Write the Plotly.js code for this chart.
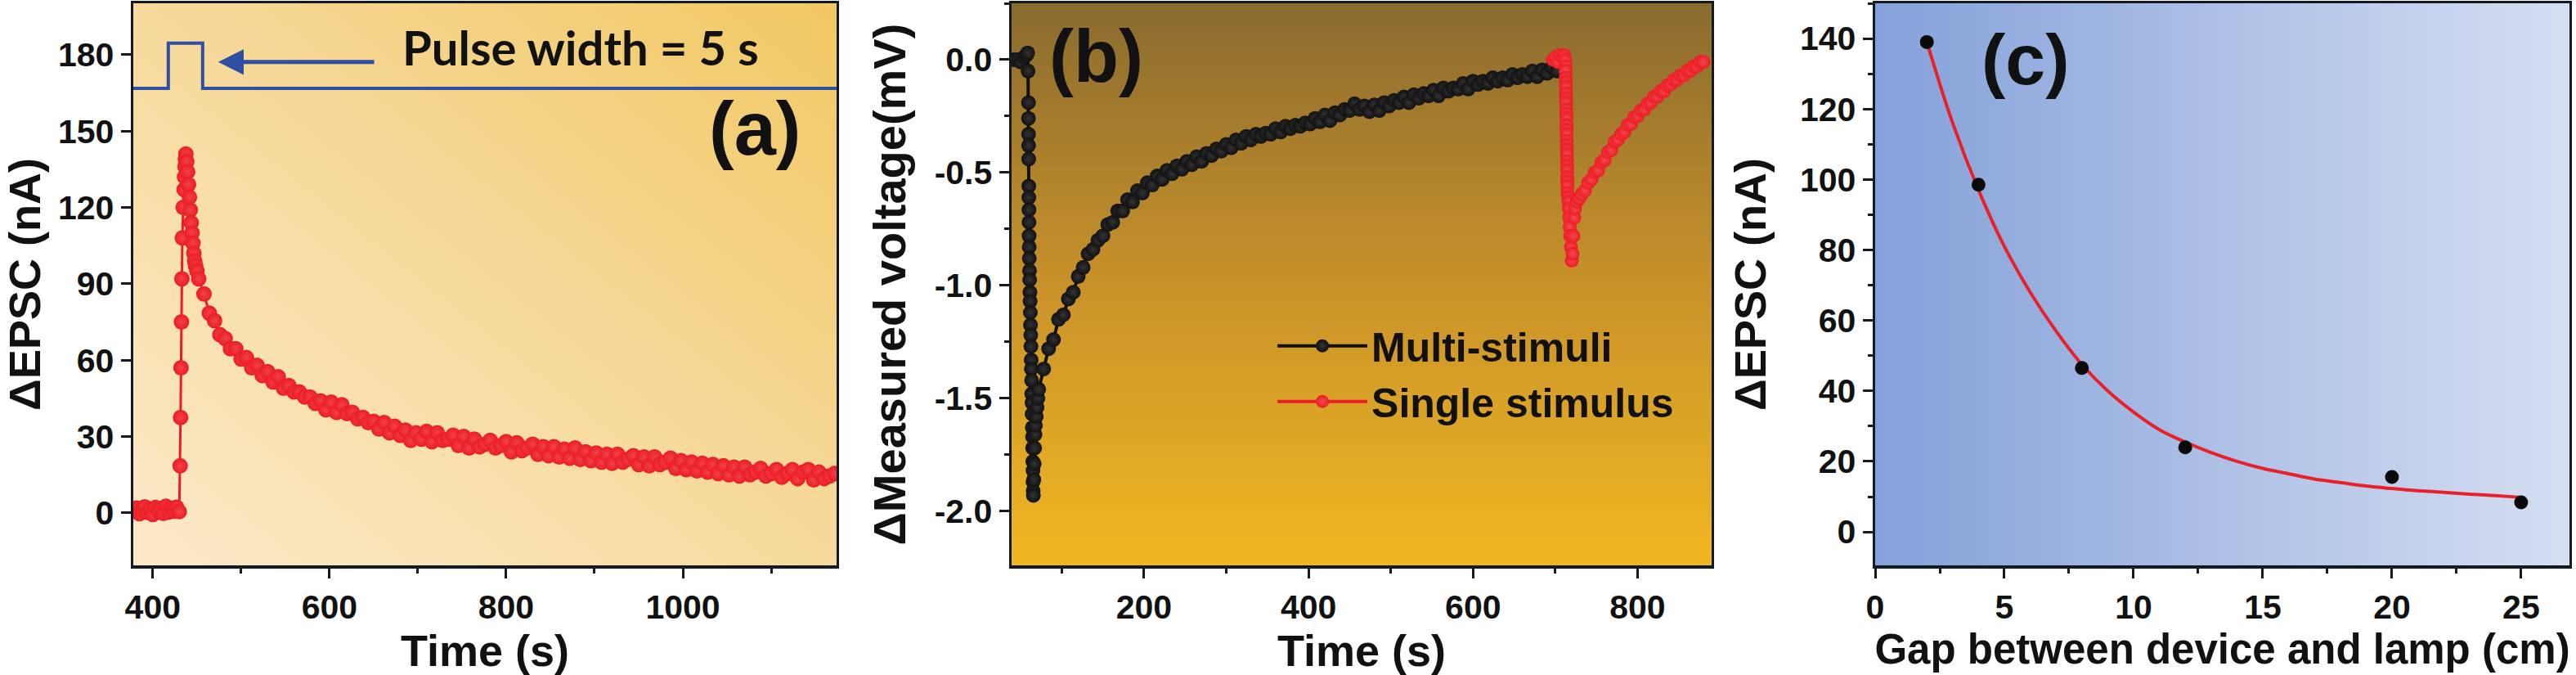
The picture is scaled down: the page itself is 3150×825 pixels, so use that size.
<!DOCTYPE html>
<html>
<head>
<meta charset="utf-8">
<script src="https://cdn.plot.ly/plotly-3.0.1.min.js"></script>
<style>
  body { margin: 0; background: #fff; }
  #plot { width: 3150px; height: 825px; }
</style>
</head>
<body>
<div id="plot"></div>
<script>
// ---- panel (a): single pulse, EPSC vs time ----
var aTime = [379,382,385,388,391,394,397,400,403,406,409,412,415,418,421,424,427,430,
  431,431.5,432,432.5,433,433.5,434.5,435.5,436,436.5,437,437.5,
  438.5,439.5,440.5,441.5,442.5,443.5,444.5,445.5,446.5,447.5,448.5,450,
  452,458,464,470,476,482,488,494,500,506,512,518,524,530,536,542,548,554,560,566,572,578,584,590,
  596,602,608,614,620,626,632,638,644,650,656,662,668,674,680,686,692,698,704,710,716,722,728,734,
  740,746,752,758,764,770,776,782,788,794,800,806,812,818,824,830,836,842,848,854,860,866,872,878,
  884,890,896,902,908,914,920,926,932,938,944,950,956,962,968,974,980,986,992,998,1004,1010,1016,
  1022,1028,1034,1040,1046,1052,1058,1064,1070,1076,1082,1088,1094,1100,1106,1112,1118,1124,1130,
  1136,1142,1148,1154,1160,1166,1172];
var aEpsc = [0.8,1.9,-0.3,1.2,2.4,0.2,1.5,-0.6,2.1,0.9,1.7,-0.2,2.6,0.4,1.8,0.7,2.2,0.5,
  18.5,37.5,57,75,92,108,120,127,132,136,139,141,
  138,134,129,124,119,114,110,106,102,99,97,95,
  92,86,78.5,75.5,70,68.5,64.5,64.5,60.5,61,57,58,54,55.5,51.5,53.5,49,50,47.5,47.5,45.5,45.5,43,44,
  40.5,43.5,39.5,42.5,39,39.5,37,37.5,35.5,36,33,35.5,31.5,34,30.5,32.5,28.5,31.5,29,32,28,31.5,28.5,29,
  30.5,26.5,30,25.5,29,26,27,28.5,25.5,26.5,28,24,27.5,24.5,25.5,27,23,26,22.5,26,22,25,21.5,25.5,
  21,24,20.5,23.5,20,23,19.5,23,20,21,22.5,19,22,18.5,22,19,20,21.5,17.5,20.5,17,20,16.5,
  19.5,16,19,15.5,18.5,15,18,14.5,18,15,16,17.5,14.5,15.5,17,14,15.5,17,13.5,
  16,17,13,16,13.5,14.5,15.5];
// light-pulse schematic (top of panel a)
var pulseX = [370,417.6,417.6,456.5,456.5,1180];
var pulseY = [166.8,166.8,184.5,184.5,166.8,166.8];

// ---- panel (b): measured voltage ----
var bMultiTime = [42,46,50,54,57,58.5,59,
  59.5,59.5,59.6,59.7,59.8,59.9,60,60.1,60.2,60.3,60.4,60.5,
  60.8,61,61.3,61.5,61.8,62,62.3,62.5,62.8,63,63.3,63.5,63.8,64,64.2,64.4,64.6,64.8,65,65,65.2,
  65.5,66,66.5,67,67.5,68,69,70,71,
  72,78,84,90,96,102,108,114,120,126,132,138,144,150,156,162,168,174,180,186,192,198,204,210,216,
  222,228,234,240,246,252,258,264,270,276,282,288,294,300,306,312,318,324,330,336,342,348,354,360,
  366,372,378,384,390,396,402,408,414,420,426,432,438,444,450,456,462,468,474,480,486,492,498,504,
  510,516,522,528,534,540,546,552,558,564,570,576,582,588,594,600,606,612,618,624,630,636,642,648,
  654,660,666,672,678,684,690,696,702];
var bMultiV = [0.0,0.0,-0.01,0.01,0.02,0.03,-0.05,
  -0.19,-0.26,-0.33,-0.38,-0.44,-0.56,-0.61,-0.665,-0.72,-0.78,-0.83,-0.88,
  -0.935,-0.975,-1.03,-1.07,-1.12,-1.175,-1.22,-1.27,-1.33,-1.37,-1.42,-1.48,-1.52,-1.57,-1.63,-1.67,-1.72,-1.78,-1.82,-1.87,-1.91,
  -1.93,-1.86,-1.79,-1.72,-1.66,-1.62,-1.58,-1.54,-1.5,
  -1.46,-1.37,-1.28,-1.24,-1.15,-1.13,-1.06,-1.03,-0.96,-0.92,-0.86,-0.84,-0.8,-0.78,-0.73,-0.72,-0.67,-0.67,-0.62,-0.63,-0.58,-0.59,-0.545,-0.555,-0.515,
  -0.53,-0.49,-0.505,-0.47,-0.485,-0.45,-0.465,-0.43,-0.45,-0.415,-0.425,-0.395,-0.405,-0.375,-0.39,-0.355,-0.37,-0.34,-0.355,-0.33,-0.34,-0.325,-0.33,-0.305,
  -0.32,-0.295,-0.305,-0.29,-0.295,-0.28,-0.285,-0.26,-0.275,-0.245,-0.27,-0.235,-0.245,-0.22,-0.225,-0.195,-0.22,-0.205,-0.23,-0.2,-0.225,-0.19,-0.205,-0.18,
  -0.19,-0.165,-0.19,-0.155,-0.17,-0.15,-0.16,-0.135,-0.16,-0.125,-0.14,-0.125,-0.13,-0.105,-0.13,-0.095,-0.11,-0.095,-0.105,-0.08,-0.095,-0.08,-0.09,-0.065,
  -0.08,-0.065,-0.075,-0.05,-0.075,-0.045,-0.06,-0.035,-0.05];
var bSingleTime = [697,700,703,706,709,711,712,
  712.5,712.6,712.7,712.8,712.9,713,713.1,713.2,713.3,713.4,713.5,713.6,713.7,713.8,713.9,714,714.1,714.2,714.3,714.4,714.5,714.6,714.7,714.8,714.9,
  715.5,716,716.5,717,717.5,718,719,
  720,721,722,723,724,726,729,
  732,736,740,744,748,752,756,760,764,768,772,776,780,784,788,792,796,800,804,808,812,816,820,824,828,832,836,840,844,848,852,856,860,864,868,872,876,880];
var bSingleV = [0.0,0.01,-0.01,0.02,0.01,0.02,0.0,
  -0.03,-0.05,-0.08,-0.1,-0.12,-0.15,-0.17,-0.19,-0.22,-0.24,-0.26,-0.29,-0.31,-0.33,-0.36,-0.38,-0.4,-0.42,-0.45,-0.47,-0.49,-0.52,-0.54,-0.56,-0.59,
  -0.61,-0.63,-0.66,-0.7,-0.74,-0.78,-0.83,
  -0.89,-0.86,-0.78,-0.7,-0.66,-0.63,-0.615,
  -0.595,-0.58,-0.545,-0.53,-0.5,-0.49,-0.455,-0.445,-0.41,-0.4,-0.365,-0.355,-0.33,-0.32,-0.29,-0.285,-0.255,-0.25,-0.225,-0.22,-0.195,-0.19,-0.165,-0.165,-0.14,-0.14,-0.115,-0.11,-0.09,-0.09,-0.07,-0.07,-0.05,-0.05,-0.03,-0.03,-0.01,-0.01];
var bTickVals = [-2,-1.5,-1,-0.5,0];
var bTickText = ['-2.0','-1.5','-1.0','-0.5','0.0'];

// ---- panel (c): EPSC vs gap ----
var gapCm = [2,4,8,12,20,25];
var gapEpsc = [139,98.5,46.5,24,15.6,8.4];
var fitGap = [2,3,4,5,6,7,8,9,10,11,12,13,14,15,16,17,18,19,20,21,22,23,24,25];
var fitEpsc = [139,116,97,81,68,57,47.5,40,34,29,25.5,22.5,20,18,16.5,15,14,13,12.3,11.7,11.2,10.7,10.3,9.8];

function grad(stops, x1, y1, x2, y2) {
  var s = stops.map(function (c) {
    return "<stop offset='" + c[0] + "' stop-color='" + c[1] + "'/>";
  }).join('');
  var svg = "<svg xmlns='http://www.w3.org/2000/svg' width='200' height='200' preserveAspectRatio='none'>" +
    "<defs><linearGradient id='g' x1='" + x1 + "' y1='" + y1 + "' x2='" + x2 + "' y2='" + y2 + "'>" + s +
    "</linearGradient></defs><rect width='200' height='200' fill='url(#g)'/></svg>";
  return 'data:image/svg+xml;charset=utf-8,' + encodeURIComponent(svg);
}

var fam = 'Liberation Sans, Arial, sans-serif';
var ink = '#141a24';
var domA = [0.05175, 0.32476], domB = [0.39270, 0.66444], domC = [0.72794, 0.99746];
var domY = [0.16242, 0.99515];

function bg(src, dom) {
  return {source: src, xref: 'paper', yref: 'paper', x: dom[0], y: domY[1],
    sizex: dom[1] - dom[0], sizey: domY[1] - domY[0], xanchor: 'left', yanchor: 'top',
    sizing: 'stretch', layer: 'below'};
}

function axis(extra) {
  var a = {
    showline: true, linecolor: ink, linewidth: 3.5, mirror: true,
    ticks: 'outside', ticklen: 12, tickwidth: 3, tickcolor: ink,
    showgrid: false, zeroline: false,
    tickfont: {family: fam, size: 41, color: '#111', weight: 'bold'}
  };
  for (var k in extra) a[k] = extra[k];
  return a;
}
function ttl(text, standoff, size) {
  return {text: text, standoff: standoff, font: {family: fam, size: size || 54, color: '#111', weight: 'bold'}};
}

var traces = [
  {x: pulseX, y: pulseY, xaxis: 'x', yaxis: 'y', mode: 'lines', showlegend: false,
    line: {color: '#2f4fa2', width: 4}, hoverinfo: 'skip'},
  {x: aTime, y: aEpsc, xaxis: 'x', yaxis: 'y', mode: 'lines+markers', showlegend: false,
    line: {color: '#ec1c24', width: 3},
    marker: {color: '#ec1c24', size: 19, gradient: {type: 'radial', color: '#ef4249'}}},
  {x: bMultiTime, y: bMultiV, xaxis: 'x2', yaxis: 'y2', mode: 'lines+markers', name: 'Multi-stimuli',
    line: {color: '#111111', width: 4},
    marker: {color: '#111111', size: 18, gradient: {type: 'radial', color: '#333333'}}},
  {x: bSingleTime, y: bSingleV, xaxis: 'x2', yaxis: 'y2', mode: 'lines+markers', name: 'Single stimulus',
    line: {color: '#ec1c24', width: 4},
    marker: {color: '#ec1c24', size: 17, gradient: {type: 'radial', color: '#f04a51'}}},
  {x: fitGap, y: fitEpsc, xaxis: 'x3', yaxis: 'y3', mode: 'lines', showlegend: false,
    line: {color: '#e8202a', width: 4, shape: 'spline'}},
  {x: gapCm, y: gapEpsc, xaxis: 'x3', yaxis: 'y3', mode: 'markers', showlegend: false,
    marker: {color: '#0a0a0a', size: 17}}
];

var layout = {
  width: 3150, height: 825,
  margin: {l: 0, r: 0, t: 0, b: 0},
  paper_bgcolor: '#ffffff', plot_bgcolor: 'rgba(0,0,0,0)',
  font: {family: fam, color: '#111'},
  xaxis: axis({domain: domA, anchor: 'y', range: [378, 1174], tickmode: 'linear', tick0: 400, dtick: 200,
    minor: {dtick: 100, ticklen: 6, tickwidth: 3, tickcolor: ink, ticks: 'outside'},
    title: ttl('Time (s)', 20)}),
  yaxis: axis({domain: domY, anchor: 'x', range: [-20.6, 200.2], tickmode: 'linear', tick0: 0, dtick: 30,
    title: ttl('\u0394EPSC (nA)', 40)}),
  xaxis2: axis({domain: domB, anchor: 'y2', range: [39, 890], tickmode: 'linear', tick0: 0, dtick: 200,
    minor: {dtick: 100, ticklen: 6, tickwidth: 3, tickcolor: ink, ticks: 'outside'},
    title: ttl('Time (s)', 20)}),
  yaxis2: axis({domain: domY, anchor: 'x2', range: [-2.24, 0.25], tickmode: 'array',
    tickvals: bTickVals, ticktext: bTickText,
    minor: {tickmode: 'linear', tick0: 0, dtick: 0.25, ticklen: 6, tickwidth: 3, tickcolor: ink, ticks: 'outside'},
    title: ttl('\u0394Measured voltage(mV)', 18, 56)}),
  xaxis3: axis({domain: domC, anchor: 'y3', range: [0, 26.87], tickmode: 'linear', tick0: 0, dtick: 5,
    minor: {dtick: 2.5, ticklen: 6, tickwidth: 3, tickcolor: ink, ticks: 'outside'},
    title: ttl('Gap between device and lamp (cm)', 0, 51)}),
  yaxis3: axis({domain: domY, anchor: 'x3', range: [-9.5, 150], tickmode: 'linear', tick0: 0, dtick: 20,
    minor: {dtick: 10, ticklen: 6, tickwidth: 3, tickcolor: ink, ticks: 'outside'},
    title: ttl('\u0394EPSC (nA)', 25)}),
  showlegend: true,
  legend: {x: 0.4943, y: 0.535, xanchor: 'left', yanchor: 'top', bgcolor: 'rgba(0,0,0,0)',
    itemwidth: 110, tracegroupgap: 0,
    font: {family: fam, size: 50, color: '#111', weight: 'bold'}},
  images: [
    bg(grad([[0, '#fbe9c9'], [0.55, '#f6d897'], [1, '#f1c862']], 0, 1, 1, 0), domA),
    bg(grad([[0, '#8a6b2f'], [0.5, '#c8922a'], [1, '#f1b722']], 0, 0, 0, 1), domB),
    bg(grad([[0, '#84a1d9'], [1, '#d6dff2']], 0, 0, 1, 0), domC)
  ],
  annotations: [
    {xref: 'x', yref: 'y', x: 884, y: 182.9, text: 'Pulse width = 5 s', showarrow: false,
      font: {family: 'Lato, Open Sans, sans-serif', size: 58, color: '#111', weight: 'bold'}},
    {xref: 'x', yref: 'y', x: 474, y: 177.1, ax: 652, ay: 177.1, axref: 'x', ayref: 'y',
      text: '', showarrow: true, arrowhead: 2, arrowsize: 1.25, arrowwidth: 5, arrowcolor: '#2f4fa2'},
    {xref: 'x', yref: 'y', x: 1081.5, y: 151, text: '(a)', showarrow: false,
      font: {family: fam, size: 92, color: '#111', weight: 'bold'}},
    {xref: 'x2', yref: 'y2', x: 141.6, y: 0.013, text: '(b)', showarrow: false,
      font: {family: fam, size: 90, color: '#111', weight: 'bold'}},
    {xref: 'x3', yref: 'y3', x: 5.82, y: 134, text: '(c)', showarrow: false,
      font: {family: fam, size: 88, color: '#111', weight: 'bold'}}
  ]
};

Plotly.newPlot('plot', traces, layout, {staticPlot: true});
</script>
</body>
</html>
